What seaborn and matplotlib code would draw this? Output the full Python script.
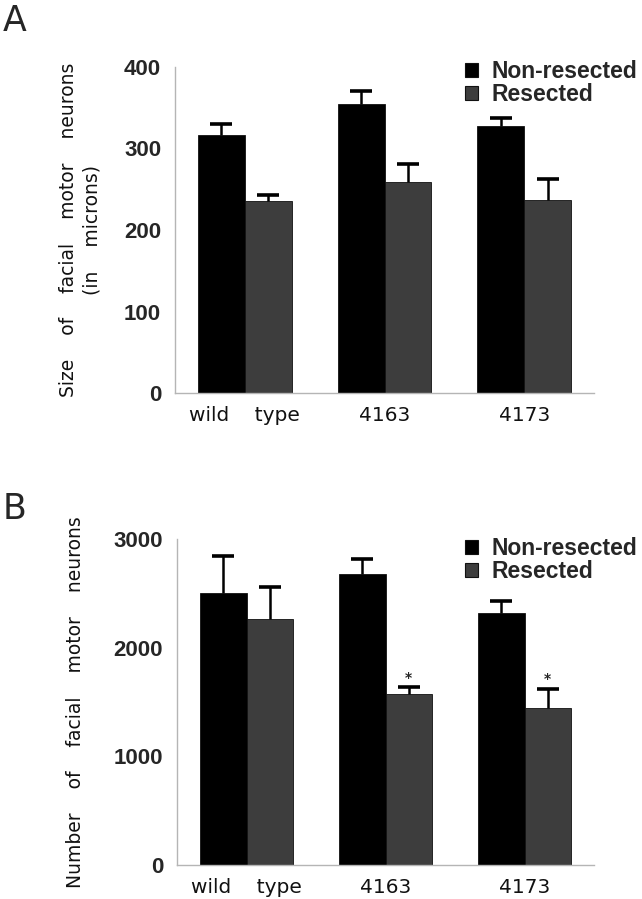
import numpy as np
import pandas as pd
import matplotlib
matplotlib.use("Agg")
import matplotlib.pyplot as plt
import seaborn as sns
from matplotlib import font_manager

# data
strains = ["wild    type", "4163", "4173"]
conditions = ["Non-resected", "Resected"]
size_nonres = [317, 354, 328]
size_res = [235, 259, 237]
size_nonres_err = [13, 16, 10]
size_res_err = [8, 22, 25]
count_nonres = [2505, 2674, 2317]
count_res = [2265, 1572, 1449]
count_nonres_err = [338, 141, 111]
count_res_err = [295, 62, 173]
count_signif = [False, True, True]

size_ticks = [0, 100, 200, 300, 400]
count_ticks = [0, 1000, 2000, 3000]

bar_colors = {"Non-resected": "#000000", "Resected": "#3d3d3d"}
axis_color = "#b5b5b5"


def pick_font(names):
    for name in names:
        try:
            font_manager.findfont(name, fallback_to_default=False)
            return name
        except Exception:
            continue
    return "DejaVu Sans"


narrow_font = pick_font(["Liberation Sans Narrow", "Liberation Sans"])
bold_font = pick_font(["Liberation Sans", "DejaVu Sans"])

sns.set_theme(style="white")
plt.rcParams["font.family"] = ["DejaVu Sans"]


def make_frame(nonres, res, nonres_err, res_err):
    rows = []
    for i, s in enumerate(strains):
        rows.append({"strain": s, "condition": conditions[0], "value": nonres[i], "err": nonres_err[i]})
        rows.append({"strain": s, "condition": conditions[1], "value": res[i], "err": res_err[i]})
    return pd.DataFrame(rows)


def draw_panel(ax, df, ticks, tick_font, tick_size, ylabel, label_x, signif=None):
    sns.barplot(data=df, x="strain", y="value", hue="condition", order=strains,
                hue_order=conditions, palette=bar_colors, width=0.67, gap=0,
                errorbar=None, edgecolor="#111111", linewidth=0.6, ax=ax, legend=True)

    # upward-only error bars at the centre of each bar
    for j, cond in enumerate(conditions):
        cont = ax.containers[j]
        sub = df[df["condition"] == cond].set_index("strain").loc[strains]
        xs = [p.get_x() + p.get_width() / 2 for p in cont.patches]
        ys = sub["value"].values
        errs = sub["err"].values
        eb = ax.errorbar(xs, ys, yerr=[np.zeros_like(errs), errs], fmt="none",
                         ecolor="black", elinewidth=1.8, capsize=8, capthick=2.6, zorder=1)
        # drop the caps that sit on the bar tops
        for cap in eb[1]:
            if np.allclose(cap.get_ydata(), ys):
                cap.set_visible(False)
        if signif is not None and cond == "Resected":
            for x, y, e, s in zip(xs, ys, errs, signif):
                if s:
                    ax.annotate("*", (x, y + e), xytext=(0, 2), textcoords="offset points",
                                ha="center", va="bottom", fontsize=10, fontweight="bold")

    ax.set_xlim(-0.5, 2.5)
    ax.set_ylim(ticks[0], ticks[-1])
    ax.set_yticks(ticks)
    ax.set_yticklabels([str(t) for t in ticks], family=tick_font, fontweight="bold",
                       fontsize=tick_size)
    step = (ticks[1] - ticks[0]) / 2
    ax.set_yticks(np.arange(ticks[0], ticks[-1] + step, step), minor=True)
    ax.set_xticks([0.5, 1.5], minor=True)
    ax.tick_params(axis="y", which="both", length=2, width=1, color=axis_color,
                   direction="inout", pad=9)
    ax.tick_params(axis="x", which="minor", length=2, width=1, color=axis_color,
                   direction="inout")
    ax.tick_params(axis="x", which="major", length=0, pad=9, labelsize=14.5)
    for lab in ax.get_xticklabels():
        lab.set_family("DejaVu Sans")
        lab.set_color("#111111")

    for side in ["top", "right"]:
        ax.spines[side].set_visible(False)
    for side in ["left", "bottom"]:
        ax.spines[side].set_color(axis_color)
        ax.spines[side].set_linewidth(1.0)

    ax.set_xlabel("")
    ax.set_ylabel(ylabel, fontsize=13.5, linespacing=1.3, color="#111111")
    ax.yaxis.set_label_coords(label_x, 0.5)


fig = plt.figure(figsize=(6.42, 8.99), dpi=100, facecolor="white")
ax_a = fig.add_axes([0.2726, 0.5628, 0.6527, 0.3627])
ax_b = fig.add_axes([0.2757, 0.0378, 0.6496, 0.3626])

draw_panel(ax_a, make_frame(size_nonres, size_res, size_nonres_err, size_res_err),
           size_ticks, bold_font, 16,
           "Size    of    facial    motor    neurons\n(in    microns)", -0.175)
draw_panel(ax_b, make_frame(count_nonres, count_res, count_nonres_err, count_res_err),
           count_ticks, narrow_font, 16,
           "Number    of    facial    motor    neurons", -0.22, signif=count_signif)

for ax, top in [(ax_a, 1 - 60 / 899), (ax_b, 1 - 537 / 899)]:
    sns.move_legend(ax, "upper left", bbox_to_anchor=(465 / 642, top),
                    bbox_transform=fig.transFigure, title=None, frameon=False,
                    handlelength=0.55, handleheight=0.6, handletextpad=0.6,
                    labelspacing=0.0, borderpad=0, borderaxespad=0,
                    prop={"family": bold_font, "weight": "bold", "size": 16.5})
    for h in ax.get_legend().get_patches():
        h.set_edgecolor("#111111")
        h.set_linewidth(0.8)

fig.text(3 / 642, 1 - 4 / 899, "A", fontsize=25, ha="left", va="top")
fig.text(3 / 642, 1 - 492 / 899, "B", fontsize=25, ha="left", va="top")

fig.savefig("out.png", dpi=100, facecolor="white")
